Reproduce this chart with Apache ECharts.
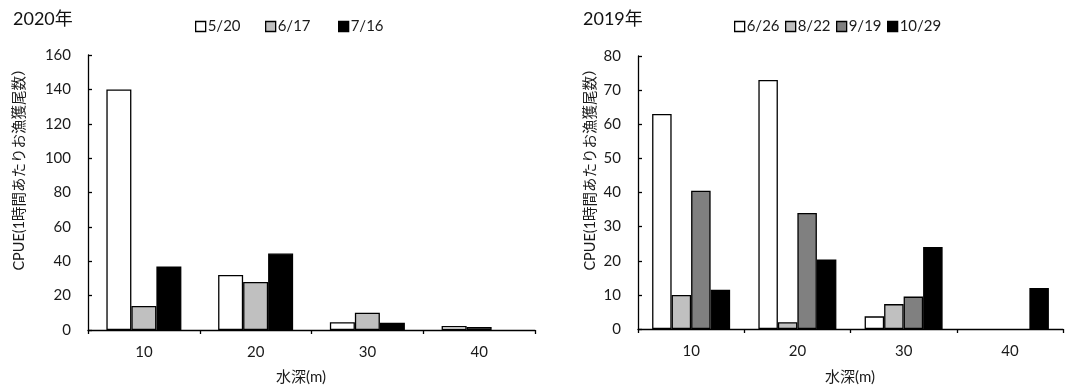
<!DOCTYPE html>
<html>
<head>
<meta charset="utf-8">
<script src="https://cdn.jsdelivr.net/npm/echarts@6/dist/echarts.min.js"></script>
<style>
  html, body { margin: 0; padding: 0; background: #fff; }
  #chart { width: 1065px; height: 392px; }
</style>
</head>
<body>
<div id="chart"></div>
<script>
// Depth classes (m) shared by both panels
const depths = ['10', '20', '30', '40'];

// 2020 survey dates and CPUE per depth (null = no catch bar drawn)
const dates2020 = ['5/20', '6/17', '7/16'];
const cpue2020_0520 = [140, 32, 4.5, 2.3];
const cpue2020_0617 = [14, 28, 10, 1.7];
const cpue2020_0716 = [37, 44.5, 4.2, null];

// 2019 survey dates and CPUE per depth
const dates2019 = ['6/26', '8/22', '9/19', '10/29'];
const cpue2019_0626 = [63, 73, 3.7, null];
const cpue2019_0822 = [10, 2, 7.3, null];
const cpue2019_0919 = [40.5, 34, 9.5, null];
const cpue2019_1029 = [11.5, 20.4, 24, 12];

// Y-axis ranges
const yMax2020 = 160, yStep2020 = 20;
const yMax2019 = 80, yStep2019 = 10;

const FONT = "Lato, 'Noto Sans CJK JP', sans-serif";
const TXT = '#1a1a1a';
const yTitle = 'CPUE(1時間あたりお漁獲尾数）';
const xTitle = '水深(m)';

const fills2020 = ['#ffffff', '#c0c0c0', '#000000'];
const fills2019 = ['#ffffff', '#c0c0c0', '#808080', '#000000'];

const grids = [
  { left: 88, top: 55, width: 447, height: 275 },
  { left: 638, top: 56, width: 425, height: 273 }
];

function xAxisFor(gi) {
  return {
    type: 'category', gridIndex: gi, data: depths,
    axisLine: { show: true, lineStyle: { color: '#000', width: 1.3 } },
    axisTick: { show: true, inside: false, length: 4, lineStyle: { color: '#000', width: 1.3 } },
    axisLabel: { color: TXT, fontSize: 15, fontFamily: FONT, margin: 15 },
    splitLine: { show: false }
  };
}
function yAxisFor(gi, max, step) {
  return {
    type: 'value', gridIndex: gi, min: 0, max: max, interval: step,
    axisLine: { show: true, lineStyle: { color: '#000', width: 1.3 } },
    axisTick: { show: true, inside: true, length: 4, lineStyle: { color: '#000', width: 1.3 } },
    axisLabel: { color: TXT, fontSize: 15, fontFamily: FONT, margin: 17 },
    splitLine: { show: false }
  };
}
function barSeries(name, data, color, gi, width) {
  return {
    name: name, type: 'bar', data: data,
    xAxisIndex: gi, yAxisIndex: gi,
    barWidth: width, barGap: '0%',
    itemStyle: { color: color, borderColor: '#000', borderWidth: 1.3 },
    emphasis: { disabled: true },
    animation: false
  };
}

const series2020 = [cpue2020_0520, cpue2020_0617, cpue2020_0716]
  .map((d, i) => barSeries(dates2020[i], d, fills2020[i], 0, 25));
const series2019 = [cpue2019_0626, cpue2019_0822, cpue2019_0919, cpue2019_1029]
  .map((d, i) => barSeries(dates2019[i], d, fills2019[i], 1, 19.5));

// One legend entry per date, placed along each panel's header row
const legendX2020 = [190, 260, 333];
const legendX2019 = [729, 780, 831, 882];
function legendItem(name, x) {
  return {
    data: [name], left: x, top: 14,
    itemWidth: 10, itemHeight: 10, itemGap: 0,
    icon: 'rect', selectedMode: false,
    itemStyle: { borderColor: '#000', borderWidth: 1.3 },
    textStyle: { color: TXT, fontSize: 15, fontFamily: FONT, padding: [0, 0, 0, -3] }
  };
}
const legends = dates2020.map((n, i) => legendItem(n, legendX2020[i]))
  .concat(dates2019.map((n, i) => legendItem(n, legendX2019[i])));

const chart = echarts.init(document.getElementById('chart'), null, { renderer: 'canvas' });
chart.setOption({
  backgroundColor: '#fff',
  animation: false,
  title: [
    { text: '2020年', left: 8, top: 5, textStyle: { fontSize: 18, fontWeight: 'normal', color: '#111', fontFamily: FONT } },
    { text: '2019年', left: 578, top: 5, textStyle: { fontSize: 18, fontWeight: 'normal', color: '#111', fontFamily: FONT } }
  ],
  legend: legends,
  grid: grids,
  xAxis: [xAxisFor(0), xAxisFor(1)],
  yAxis: [yAxisFor(0, yMax2020, yStep2020), yAxisFor(1, yMax2019, yStep2019)],
  series: series2020.concat(series2019),
  graphic: [
    { type: 'text', x: 19, y: 166, rotation: Math.PI / 2, originX: 0, originY: 0,
      style: { text: yTitle, fill: TXT, fontSize: 14.5, fontFamily: FONT, align: 'center', verticalAlign: 'middle' } },
    { type: 'text', x: 590, y: 166, rotation: Math.PI / 2, originX: 0, originY: 0,
      style: { text: yTitle, fill: TXT, fontSize: 14.5, fontFamily: FONT, align: 'center', verticalAlign: 'middle' } },
    { type: 'text', x: 301, y: 377,
      style: { text: xTitle, fill: TXT, fontSize: 15, fontFamily: FONT, align: 'center', verticalAlign: 'middle' } },
    { type: 'text', x: 850, y: 377,
      style: { text: xTitle, fill: TXT, fontSize: 15, fontFamily: FONT, align: 'center', verticalAlign: 'middle' } }
  ]
});
</script>
</body>
</html>
